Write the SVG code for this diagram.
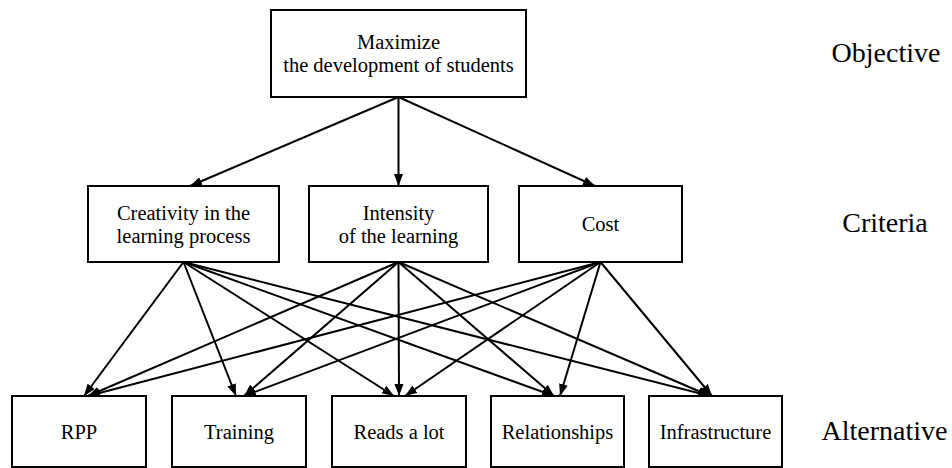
<svg xmlns="http://www.w3.org/2000/svg" width="952" height="468" viewBox="0 0 952 468">
<style>
.box{fill:#fff;stroke:#000;stroke-width:2}
.t{font-family:"Liberation Serif","Times New Roman","DejaVu Serif",serif;font-size:20.5px;fill:#000;text-anchor:middle}
.lbl{font-family:"Liberation Serif","Times New Roman","DejaVu Serif",serif;font-size:28px;fill:#000;text-anchor:middle}
.e{stroke:#000;stroke-width:2;fill:none;marker-end:url(#ah)}
</style>
<defs>
<marker id="ah" markerUnits="userSpaceOnUse" markerWidth="13" markerHeight="10" refX="12" refY="5" orient="auto">
<path d="M0,0.5 L12,5 L0,9.5 z" fill="#000"/>
</marker>
</defs>
<rect width="952" height="468" fill="#fff"/>
<g id="connectors">
<line class="e" x1="398.5" y1="97" x2="190" y2="186"/>
<line class="e" x1="398.5" y1="97" x2="398.5" y2="186"/>
<line class="e" x1="398.5" y1="97" x2="595" y2="186"/>
<line class="e" x1="183.5" y1="262" x2="84" y2="396"/>
<line class="e" x1="183.5" y1="262" x2="236" y2="396"/>
<line class="e" x1="183.5" y1="262" x2="394" y2="396"/>
<line class="e" x1="183.5" y1="262" x2="554" y2="396"/>
<line class="e" x1="183.5" y1="262" x2="710" y2="396"/>
<line class="e" x1="398.5" y1="262" x2="88" y2="396"/>
<line class="e" x1="398.5" y1="262" x2="244" y2="396"/>
<line class="e" x1="398.5" y1="262" x2="399" y2="396"/>
<line class="e" x1="398.5" y1="262" x2="554" y2="396"/>
<line class="e" x1="398.5" y1="262" x2="710" y2="396"/>
<line class="e" x1="600.5" y1="262" x2="88" y2="396"/>
<line class="e" x1="600.5" y1="262" x2="244" y2="396"/>
<line class="e" x1="600.5" y1="262" x2="405" y2="396"/>
<line class="e" x1="600.5" y1="262" x2="560" y2="396"/>
<line class="e" x1="600.5" y1="262" x2="712" y2="396"/>
</g>
<g id="objective">
<rect class="box" x="271" y="10" width="255" height="87"/>
<text class="t" x="398.5" y="49">Maximize</text>
<text class="t" x="398.5" y="72">the development of students</text>
</g>
<g id="creativity">
<rect class="box" x="88" y="186" width="191" height="76"/>
<text class="t" x="183.5" y="220">Creativity in the</text>
<text class="t" x="183.5" y="243">learning process</text>
</g>
<g id="intensity">
<rect class="box" x="309" y="186" width="179" height="76"/>
<text class="t" x="398.5" y="220">Intensity</text>
<text class="t" x="398.5" y="243">of the learning</text>
</g>
<g id="cost">
<rect class="box" x="519" y="186" width="163" height="76"/>
<text class="t" x="600.5" y="231">Cost</text>
</g>
<g id="rpp">
<rect class="box" x="12" y="396" width="134" height="71"/>
<text class="t" x="79" y="438.5">RPP</text>
</g>
<g id="training">
<rect class="box" x="172" y="396" width="134" height="71"/>
<text class="t" x="239" y="438.5">Training</text>
</g>
<g id="reads">
<rect class="box" x="332" y="396" width="134" height="71"/>
<text class="t" x="399" y="438.5">Reads a lot</text>
</g>
<g id="relationships">
<rect class="box" x="491" y="396" width="133" height="71"/>
<text class="t" x="557.5" y="438.5">Relationships</text>
</g>
<g id="infrastructure">
<rect class="box" x="649" y="396" width="133" height="71"/>
<text class="t" x="715.5" y="438.5">Infrastructure</text>
</g>
<g id="labels">
<text class="lbl" x="886" y="62">Objective</text>
<text class="lbl" x="885" y="232">Criteria</text>
<text class="lbl" x="884.5" y="440">Alternative</text>
</g>
</svg>
